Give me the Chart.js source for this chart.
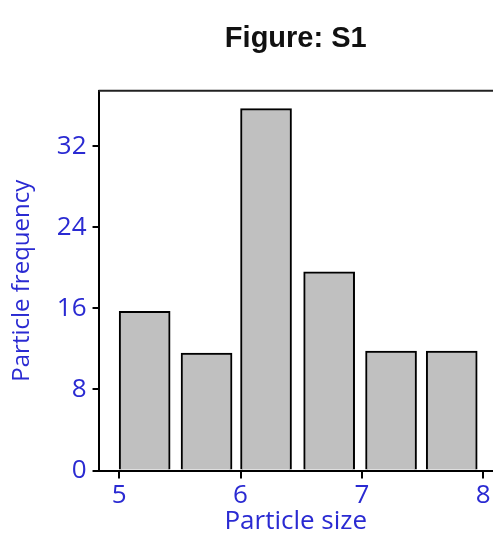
<!DOCTYPE html>
<html>
<head>
<meta charset="utf-8">
<script src="https://cdn.jsdelivr.net/npm/chart.js@4"></script>
<style>
  html, body { margin: 0; padding: 0; background: #fff; }
  #wrap { width: 493px; height: 537px; }
</style>
</head>
<body>
<div id="wrap"><canvas id="chart"></canvas></div>
<script>
// bin centres (particle size) and counts
const sizes = [5.21, 5.72, 6.21, 6.73, 7.24, 7.74];
const counts = [15.7, 11.6, 35.7, 19.6, 11.8, 11.8];
const xTicks = [5, 6, 7, 8];
const yTicks = [0, 8, 16, 24, 32];

const blue = "#2a2ad2";

// draw the top frame line of the plot box
const topBorder = {
  id: "topBorder",
  afterDraw(chart) {
    const { ctx, chartArea } = chart;
    ctx.save();
    ctx.strokeStyle = "#222";
    ctx.lineWidth = 2;
    ctx.beginPath();
    ctx.moveTo(chartArea.left, chartArea.top);
    ctx.lineTo(chartArea.right, chartArea.top);
    ctx.stroke();
    ctx.restore();
  },
};

new Chart(document.getElementById("chart"), {
  type: "bar",
  data: {
    datasets: [
      {
        data: sizes.map((s, i) => ({ x: s, y: counts[i] })),
        backgroundColor: "#c0c0c0",
        borderColor: "#000",
        borderWidth: 2,
        barThickness: 51,
      },
    ],
  },
  options: {
    responsive: true,
    maintainAspectRatio: false,
    animation: false,
    layout: { padding: { left: 8, right: 0, top: 0, bottom: 0 } },
    plugins: {
      legend: { display: false },
      tooltip: { enabled: false },
      title: {
        display: true,
        text: "Figure: S1",
        fullSize: false,
        color: "#111",
        font: { family: "Liberation Sans", size: 29, weight: "bold" },
        padding: { top: 22, bottom: 34 },
      },
    },
    scales: {
      x: {
        type: "linear",
        offset: false,
        min: 4.83,
        max: 8.08,
        afterBuildTicks: (axis) => {
          axis.ticks = xTicks.map((v) => ({ value: v }));
        },
        ticks: {
          color: blue,
          font: { family: "Open Sans", size: 26 },
          padding: 1,
          maxRotation: 0,
        },
        grid: {
          display: true,
          offset: false,
          drawOnChartArea: false,
          drawTicks: true,
          tickLength: 8,
          color: "#000",
          lineWidth: 2,
        },
        border: { display: true, color: "#000", width: 2 },
        title: {
          display: true,
          text: "Particle size",
          color: blue,
          font: { family: "Open Sans", size: 26 },
          padding: { top: -6, bottom: 0 },
        },
      },
      y: {
        min: 0,
        max: 37.46,
        afterBuildTicks: (axis) => {
          axis.ticks = yTicks.map((v) => ({ value: v }));
        },
        ticks: {
          color: blue,
          font: { family: "Open Sans", size: 26 },
          padding: 6,
        },
        grid: {
          display: true,
          drawOnChartArea: false,
          drawTicks: true,
          tickLength: 6,
          color: "#000",
          lineWidth: 2,
        },
        border: { display: true, color: "#000", width: 2 },
        title: {
          display: true,
          text: "Particle frequency",
          color: blue,
          font: { family: "Open Sans", size: 24 },
          padding: { top: 0, bottom: 14 },
        },
      },
    },
  },
  plugins: [topBorder],
});
</script>
</body>
</html>
